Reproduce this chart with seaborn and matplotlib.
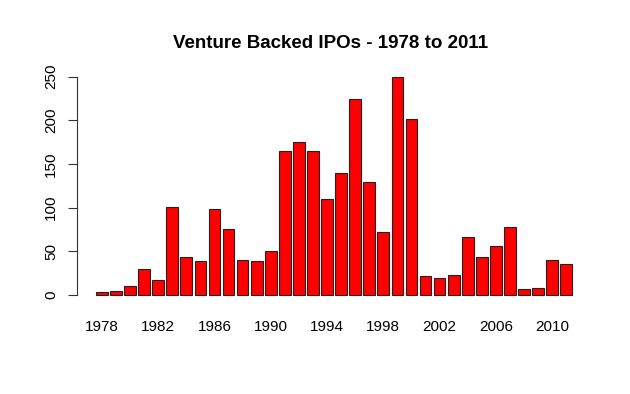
import matplotlib
matplotlib.use("Agg")
import matplotlib.pyplot as plt
import seaborn as sns
import pandas as pd

years = list(range(1978, 2012))
ipos = [3, 4, 10, 30, 17, 101, 43, 39, 99, 75, 40, 39, 50, 165, 175, 165, 110, 140,
        225, 129, 72, 250, 202, 22, 20, 23, 66, 44, 56, 78, 7, 8, 40, 35]
yticks = [0, 50, 100, 150, 200, 250]
title = "Venture Backed IPOs - 1978 to 2011"

sns.set_style("white")
plt.rcParams['font.family'] = ['Liberation Sans', 'DejaVu Sans']
plt.rcParams['text.color'] = 'black'
plt.rcParams['xtick.color'] = 'black'
plt.rcParams['ytick.color'] = 'black'

df = pd.DataFrame({"year": [str(y) for y in years], "ipos": ipos})

fig = plt.figure(figsize=(6.3, 3.94), dpi=100)
ax = fig.add_axes([77 / 630, 1 - 303.7 / 394, (591.1 - 77) / 630, (303.7 - 68) / 394])
sns.barplot(data=df, x="year", y="ipos", color="#FF0000", saturation=1,
            width=0.8333, edgecolor="#222222", linewidth=0.8, ax=ax)

ax.set_xlim(-1.77, 34.77)
ax.set_ylim(-10, 260)
ax.set_xlabel("")
ax.set_ylabel("")
for s in ["top", "right", "bottom"]:
    ax.spines[s].set_visible(False)
ax.spines["left"].set_bounds(0, 250)
ax.spines["left"].set_color("#333333")
ax.spines["left"].set_linewidth(0.8)
ax.set_yticks(yticks)
ax.set_yticklabels([str(v) for v in yticks], rotation=90, va="center", fontsize=11,
                   color="black")
ax.tick_params(axis="y", length=6.5, width=0.8, color="#333333", pad=7, left=True)
idx = [i for i, y in enumerate(years) if (y - 1978) % 4 == 0]
ax.set_xticks(idx)
ax.set_xticklabels([str(years[i]) for i in idx], fontsize=11, color="black")
ax.tick_params(axis="x", length=0, pad=12)
ax.grid(False)

fig.text(330.5 / 630, 1 - 43 / 394, title, ha="center", va="center",
         fontsize=13.5, fontweight="bold", color="black")

fig.savefig("out.png", dpi=100)
